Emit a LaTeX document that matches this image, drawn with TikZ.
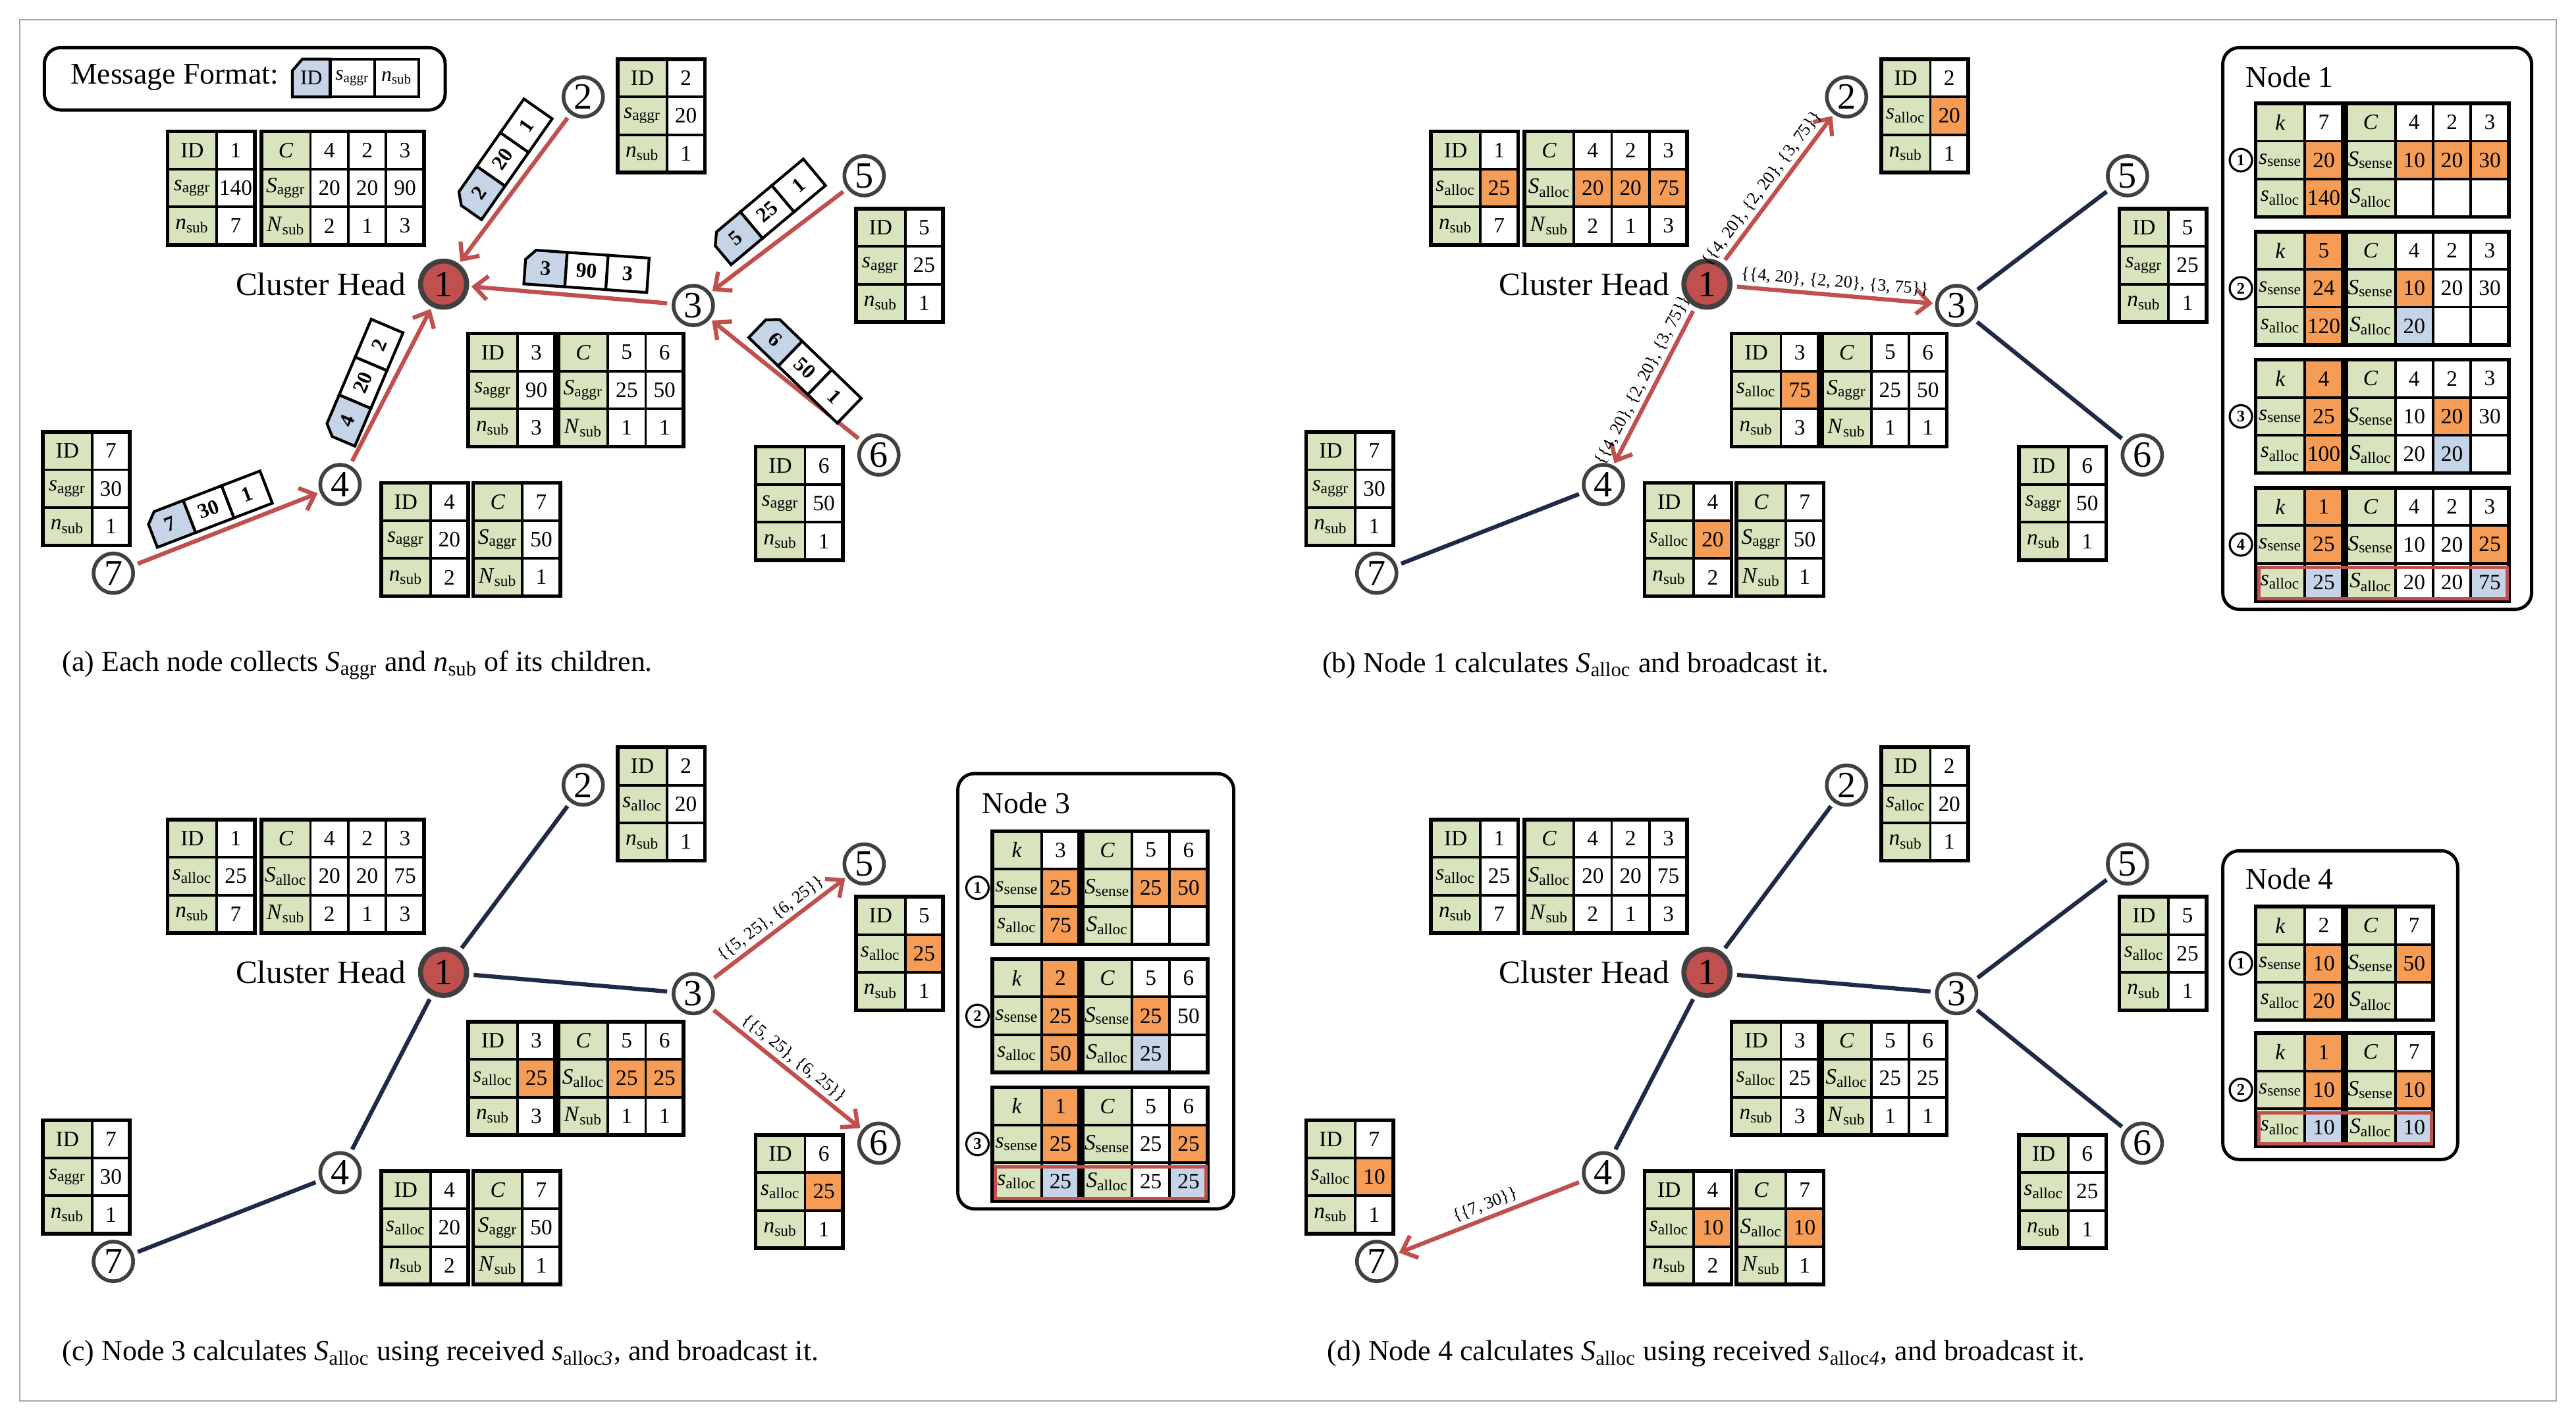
\documentclass[tikz,border=0pt]{standalone}
\usepackage{fontspec}
\setmainfont{Liberation Serif}
\usetikzlibrary{arrows.meta}
\definecolor{chred}{HTML}{C0504D}
\definecolor{ndc}{HTML}{404040}
\definecolor{navy}{HTML}{1F2A48}
\definecolor{gg}{HTML}{D7E4BD}
\definecolor{oo}{HTML}{F59D56}
\definecolor{bb}{HTML}{C5D4E6}
\colorlet{ww}{white}
\newcommand\sv[2]{\textit{#1}\textsubscript{#2}}
\newcommand\tabfont{\fontsize{9.5}{9.5}\selectfont}
\tikzset{
 nd/.style={circle, draw=ndc, line width=1.6pt, fill=white, minimum size=6mm, inner sep=0pt, font=\fontsize{16}{16}\selectfont},
 ch/.style={nd, fill=chred, minimum size=7mm, line width=2.2pt},
 arr/.style={draw=chred, line width=1.8pt, -{Straight Barb[length=2mm,width=3.6mm]}, shorten >=1pt, shorten <=2pt},
 ln/.style={draw=navy, line width=1.8pt, shorten >=2pt, shorten <=2pt},
 lbl/.style={font=\fontsize{7.5}{7.5}\selectfont, sloped, above, inner sep=1.5pt},
 cnum/.style={circle, draw, line width=0.9pt, inner sep=0pt, minimum size=3.4mm, font=\fontsize{7}{7}\selectfont\bfseries},
 box/.style={draw, line width=1.4pt, rounded corners=2.5mm, fill=white},
 captxt/.style={anchor=west, font=\fontsize{12.5}{12.5}\selectfont},
}
% table block: x y ncols rows
\newcommand\tb[4]{%
 \begin{scope}[line width=1.1pt]
 \foreach \rw [count=\i] in {#4} {
  \foreach \cc/\tx [count=\j] in \rw {
   \pgfmathsetmacro\xx{#1+(\j==1?0:30+(\j-2)*23)}
   \pgfmathsetmacro\ww{(\j==1?30:23)}
   \pgfmathsetmacro\yy{#2+(\i-1)*23}
   \filldraw[fill=\cc] (\xx,\yy) rectangle ++(\ww,23);
   \node[font=\tabfont, inner sep=0pt] at (\xx+\ww/2,\yy+11.5) {\tx};
  }
 }
 \draw[line width=1.6pt] (#1,#2) rectangle ++({30+(#3-1)*23},69);
 \end{scope}}
% message strip: x y angle id a b
\newcommand\msg[6]{%
 \begin{scope}[shift={(#1,#2)}, rotate=#3, line width=1.2pt]
  \filldraw[fill=bb] (-31.5,-10.5) -- (-12.5,-10.5) -- (-12.5,10.5) -- (-37.5,10.5) -- (-37.5,-4.5) -- cycle;
  \filldraw[fill=white] (-12.5,-10.5) rectangle (12.5,10.5);
  \filldraw[fill=white] (12.5,-10.5) rectangle (37.5,10.5);
  \node[rotate=#3, inner sep=0pt, font=\fontsize{9}{9}\selectfont\bfseries] at (-25,0) {#4};
  \node[rotate=#3, inner sep=0pt, font=\fontsize{9}{9}\selectfont\bfseries] at (0,0) {#5};
  \node[rotate=#3, inner sep=0pt, font=\fontsize{9}{9}\selectfont\bfseries] at (25,0) {#6};
 \end{scope}}
\newcommand\graphnodes[1]{%
 \node[ch] (#11) at (270,173) {1};
 \node[nd] (#12) at (355,59) {2};
 \node[nd] (#13) at (422,186) {3};
 \node[nd] (#14) at (207,295) {4};
 \node[nd] (#15) at (526,107) {5};
 \node[nd] (#16) at (535,277) {6};
 \node[nd] (#17) at (69,349) {7};
 \node[anchor=east, font=\fontsize{14}{14}\selectfont] (#1ch) at (252,173) {Cluster Head};}
\newcommand\grpnum[2]{\node[cnum] at (595,#1+34.5) {#2};}
\begin{document}
\begin{tikzpicture}[x=0.2495mm, y=-0.2495mm]
\useasboundingbox (0,0) rectangle (1568,865.7);
\draw[gray!70, line width=0.6pt] (12,12) rectangle (1556,853);

%================ (a)
\begin{scope}
\node[box, minimum width=244*0.2495mm, minimum height=38*0.2495mm, anchor=north west] (mf) at (26,28) {};
\node[anchor=west, font=\fontsize{13}{13}\selectfont] (mft) at (38,47) {Message Format:};
\begin{scope}[line width=1.2pt]
\filldraw[fill=bb] (184,36) -- (201,36) -- (201,59) -- (178,59) -- (178,43) -- cycle;
\draw (201,36) rectangle (228,59); \draw (228,36) rectangle (255,59);
\node[font=\fontsize{9}{9}\selectfont] at (189.5,47.5) {ID};
\node[font=\fontsize{9}{9}\selectfont] at (214.5,47.5) {\sv{s}{aggr}};
\node[font=\fontsize{9}{9}\selectfont] at (241.5,47.5) {\sv{n}{sub}};
\end{scope}
\graphnodes{a}
\tb{102}{80}{2}{{gg/ID,ww/1},{gg/\sv{s}{aggr},ww/140},{gg/\sv{n}{sub},ww/7}}
\tb{159}{80}{4}{{gg/\textit{C},ww/4,ww/2,ww/3},{gg/\sv{S}{aggr},ww/20,ww/20,ww/90},{gg/\sv{N}{sub},ww/2,ww/1,ww/3}}
\tb{376}{36}{2}{{gg/ID,ww/2},{gg/\sv{s}{aggr},ww/20},{gg/\sv{n}{sub},ww/1}}
\tb{521}{127}{2}{{gg/ID,ww/5},{gg/\sv{s}{aggr},ww/25},{gg/\sv{n}{sub},ww/1}}
\tb{285}{203}{2}{{gg/ID,ww/3},{gg/\sv{s}{aggr},ww/90},{gg/\sv{n}{sub},ww/3}}
\tb{340}{203}{3}{{gg/\textit{C},ww/5,ww/6},{gg/\sv{S}{aggr},ww/25,ww/50},{gg/\sv{N}{sub},ww/1,ww/1}}
\tb{460}{272}{2}{{gg/ID,ww/6},{gg/\sv{s}{aggr},ww/50},{gg/\sv{n}{sub},ww/1}}
\tb{232}{294}{2}{{gg/ID,ww/4},{gg/\sv{s}{aggr},ww/20},{gg/\sv{n}{sub},ww/2}}
\tb{288}{294}{2}{{gg/\textit{C},ww/7},{gg/\sv{S}{aggr},ww/50},{gg/\sv{N}{sub},ww/1}}
\tb{26}{263}{2}{{gg/ID,ww/7},{gg/\sv{s}{aggr},ww/30},{gg/\sv{n}{sub},ww/1}}
\draw[arr] (a2) -- (a1);
\draw[arr] (a3) -- (a1);
\draw[arr] (a5) -- (a3);
\draw[arr] (a6) -- (a3);
\draw[arr] (a7) -- (a4);
\draw[arr] (a4) -- (a1);
\msg{306}{97}{55}{2}{20}{1}
\msg{357}{165}{-4}{3}{90}{3}
\msg{467}{129}{40}{5}{25}{1}
\msg{490}{224}{-44}{6}{50}{1}
\msg{221}{233}{67}{4}{20}{2}
\msg{127}{310}{21}{7}{30}{1}
\node[captxt] (capa) at (33,405) {(a) Each node collects \sv{S}{aggr} and \sv{n}{sub} of its children.};
\end{scope}

%================ (b)
\begin{scope}[shift={(769,0)}]
\graphnodes{b}
\tb{102}{80}{2}{{gg/ID,ww/1},{gg/\sv{s}{alloc},oo/25},{gg/\sv{n}{sub},ww/7}}
\tb{159}{80}{4}{{gg/\textit{C},ww/4,ww/2,ww/3},{gg/\sv{S}{alloc},oo/20,oo/20,oo/75},{gg/\sv{N}{sub},ww/2,ww/1,ww/3}}
\tb{376}{36}{2}{{gg/ID,ww/2},{gg/\sv{s}{alloc},oo/20},{gg/\sv{n}{sub},ww/1}}
\tb{521}{127}{2}{{gg/ID,ww/5},{gg/\sv{s}{aggr},ww/25},{gg/\sv{n}{sub},ww/1}}
\tb{285}{203}{2}{{gg/ID,ww/3},{gg/\sv{s}{alloc},oo/75},{gg/\sv{n}{sub},ww/3}}
\tb{340}{203}{3}{{gg/\textit{C},ww/5,ww/6},{gg/\sv{S}{aggr},ww/25,ww/50},{gg/\sv{N}{sub},ww/1,ww/1}}
\tb{460}{272}{2}{{gg/ID,ww/6},{gg/\sv{s}{aggr},ww/50},{gg/\sv{n}{sub},ww/1}}
\tb{232}{294}{2}{{gg/ID,ww/4},{gg/\sv{s}{alloc},oo/20},{gg/\sv{n}{sub},ww/2}}
\tb{288}{294}{2}{{gg/\textit{C},ww/7},{gg/\sv{S}{aggr},ww/50},{gg/\sv{N}{sub},ww/1}}
\tb{26}{263}{2}{{gg/ID,ww/7},{gg/\sv{s}{aggr},ww/30},{gg/\sv{n}{sub},ww/1}}
\draw[arr] (b1) -- node[lbl, pos=0.45] {\{\{4, 20\}, \{2, 20\}, \{3, 75\}\}} (b2);
\draw[arr] (b1) -- node[lbl, pos=0.5] {\{\{4, 20\}, \{2, 20\}, \{3, 75\}\}} (b3);
\draw[arr] (b1) -- node[lbl, pos=0.5] {\{\{4, 20\}, \{2, 20\}, \{3, 75\}\}} (b4);
\draw[ln] (b3) -- (b5);
\draw[ln] (b3) -- (b6);
\draw[ln] (b4) -- (b7);
\node[box, minimum width=188*0.2495mm, minimum height=342*0.2495mm, anchor=north west] (n1box) at (583,28) {};
\node[anchor=west, font=\fontsize{13}{13}\selectfont] (n1t) at (593,47) {Node 1};
\tb{604}{63}{2}{{gg/\textit{k},ww/7},{gg/\sv{s}{sense},oo/20},{gg/\sv{s}{alloc},oo/140}}
\tb{659}{63}{4}{{gg/\textit{C},ww/4,ww/2,ww/3},{gg/\sv{S}{sense},oo/10,oo/20,oo/30},{gg/\sv{S}{alloc},ww/{},ww/{},ww/{}}}
\grpnum{63}{1}
\tb{604}{141}{2}{{gg/\textit{k},oo/5},{gg/\sv{s}{sense},oo/24},{gg/\sv{s}{alloc},oo/120}}
\tb{659}{141}{4}{{gg/\textit{C},ww/4,ww/2,ww/3},{gg/\sv{S}{sense},oo/10,ww/20,ww/30},{gg/\sv{S}{alloc},bb/20,ww/{},ww/{}}}
\grpnum{141}{2}
\tb{604}{219}{2}{{gg/\textit{k},oo/4},{gg/\sv{s}{sense},oo/25},{gg/\sv{s}{alloc},oo/100}}
\tb{659}{219}{4}{{gg/\textit{C},ww/4,ww/2,ww/3},{gg/\sv{S}{sense},ww/10,oo/20,ww/30},{gg/\sv{S}{alloc},ww/20,bb/20,ww/{}}}
\grpnum{219}{3}
\tb{604}{297}{2}{{gg/\textit{k},oo/1},{gg/\sv{s}{sense},oo/25},{gg/\sv{s}{alloc},bb/25}}
\tb{659}{297}{4}{{gg/\textit{C},ww/4,ww/2,ww/3},{gg/\sv{S}{sense},ww/10,ww/20,oo/25},{gg/\sv{S}{alloc},ww/20,ww/20,bb/75}}
\grpnum{297}{4}
\draw[chred, line width=1.4pt] (606,345.5) rectangle (757,364.5);
\node[captxt] (capb) at (31,405) {(b) Node 1 calculates \sv{S}{alloc} and broadcast it.};
\end{scope}

%================ (c)
\begin{scope}[shift={(0,419)}]
\graphnodes{c}
\tb{102}{80}{2}{{gg/ID,ww/1},{gg/\sv{s}{alloc},ww/25},{gg/\sv{n}{sub},ww/7}}
\tb{159}{80}{4}{{gg/\textit{C},ww/4,ww/2,ww/3},{gg/\sv{S}{alloc},ww/20,ww/20,ww/75},{gg/\sv{N}{sub},ww/2,ww/1,ww/3}}
\tb{376}{36}{2}{{gg/ID,ww/2},{gg/\sv{s}{alloc},ww/20},{gg/\sv{n}{sub},ww/1}}
\tb{521}{127}{2}{{gg/ID,ww/5},{gg/\sv{s}{alloc},oo/25},{gg/\sv{n}{sub},ww/1}}
\tb{285}{203}{2}{{gg/ID,ww/3},{gg/\sv{s}{alloc},oo/25},{gg/\sv{n}{sub},ww/3}}
\tb{340}{203}{3}{{gg/\textit{C},ww/5,ww/6},{gg/\sv{S}{alloc},oo/25,oo/25},{gg/\sv{N}{sub},ww/1,ww/1}}
\tb{460}{272}{2}{{gg/ID,ww/6},{gg/\sv{s}{alloc},oo/25},{gg/\sv{n}{sub},ww/1}}
\tb{232}{294}{2}{{gg/ID,ww/4},{gg/\sv{s}{alloc},ww/20},{gg/\sv{n}{sub},ww/2}}
\tb{288}{294}{2}{{gg/\textit{C},ww/7},{gg/\sv{S}{aggr},ww/50},{gg/\sv{N}{sub},ww/1}}
\tb{26}{263}{2}{{gg/ID,ww/7},{gg/\sv{s}{aggr},ww/30},{gg/\sv{n}{sub},ww/1}}
\draw[ln] (c1) -- (c2);
\draw[ln] (c1) -- (c3);
\draw[ln] (c1) -- (c4);
\draw[ln] (c4) -- (c7);
\draw[arr] (c3) -- node[lbl] {\{\{5, 25\}, \{6, 25\}\}} (c5);
\draw[arr] (c3) -- node[lbl] {\{\{5, 25\}, \{6, 25\}\}} (c6);
\node[box, minimum width=168*0.2495mm, minimum height=265*0.2495mm, anchor=north west] (n3box) at (582,51) {};
\node[anchor=west, font=\fontsize{13}{13}\selectfont] (n3t) at (593,70) {Node 3};
\tb{604}{87}{2}{{gg/\textit{k},ww/3},{gg/\sv{s}{sense},oo/25},{gg/\sv{s}{alloc},oo/75}}
\tb{659}{87}{3}{{gg/\textit{C},ww/5,ww/6},{gg/\sv{S}{sense},oo/25,oo/50},{gg/\sv{S}{alloc},ww/{},ww/{}}}
\grpnum{87}{1}
\tb{604}{165}{2}{{gg/\textit{k},oo/2},{gg/\sv{s}{sense},oo/25},{gg/\sv{s}{alloc},oo/50}}
\tb{659}{165}{3}{{gg/\textit{C},ww/5,ww/6},{gg/\sv{S}{sense},oo/25,ww/50},{gg/\sv{S}{alloc},bb/25,ww/{}}}
\grpnum{165}{2}
\tb{604}{243}{2}{{gg/\textit{k},oo/1},{gg/\sv{s}{sense},oo/25},{gg/\sv{s}{alloc},bb/25}}
\tb{659}{243}{3}{{gg/\textit{C},ww/5,ww/6},{gg/\sv{S}{sense},ww/25,oo/25},{gg/\sv{S}{alloc},ww/25,bb/25}}
\grpnum{243}{3}
\draw[chred, line width=1.4pt] (606,291.5) rectangle (734,310.5);
\node[captxt] (capc) at (33,405) {(c) Node 3 calculates \sv{S}{alloc} using received \textit{s}\textsubscript{alloc\textit{3}}, and broadcast it.};
\end{scope}

%================ (d)
\begin{scope}[shift={(769,419)}]
\graphnodes{d}
\tb{102}{80}{2}{{gg/ID,ww/1},{gg/\sv{s}{alloc},ww/25},{gg/\sv{n}{sub},ww/7}}
\tb{159}{80}{4}{{gg/\textit{C},ww/4,ww/2,ww/3},{gg/\sv{S}{alloc},ww/20,ww/20,ww/75},{gg/\sv{N}{sub},ww/2,ww/1,ww/3}}
\tb{376}{36}{2}{{gg/ID,ww/2},{gg/\sv{s}{alloc},ww/20},{gg/\sv{n}{sub},ww/1}}
\tb{521}{127}{2}{{gg/ID,ww/5},{gg/\sv{s}{alloc},ww/25},{gg/\sv{n}{sub},ww/1}}
\tb{285}{203}{2}{{gg/ID,ww/3},{gg/\sv{s}{alloc},ww/25},{gg/\sv{n}{sub},ww/3}}
\tb{340}{203}{3}{{gg/\textit{C},ww/5,ww/6},{gg/\sv{S}{alloc},ww/25,ww/25},{gg/\sv{N}{sub},ww/1,ww/1}}
\tb{460}{272}{2}{{gg/ID,ww/6},{gg/\sv{s}{alloc},ww/25},{gg/\sv{n}{sub},ww/1}}
\tb{232}{294}{2}{{gg/ID,ww/4},{gg/\sv{s}{alloc},oo/10},{gg/\sv{n}{sub},ww/2}}
\tb{288}{294}{2}{{gg/\textit{C},ww/7},{gg/\sv{S}{alloc},oo/10},{gg/\sv{N}{sub},ww/1}}
\tb{26}{263}{2}{{gg/ID,ww/7},{gg/\sv{s}{alloc},oo/10},{gg/\sv{n}{sub},ww/1}}
\draw[ln] (d1) -- (d2);
\draw[ln] (d1) -- (d3);
\draw[ln] (d1) -- (d4);
\draw[ln] (d3) -- (d5);
\draw[ln] (d3) -- (d6);
\draw[arr] (d4) -- node[lbl] {\{\{7, 30\}\}} (d7);
\node[box, minimum width=143*0.2495mm, minimum height=188*0.2495mm, anchor=north west] (n4box) at (583,98) {};
\node[anchor=west, font=\fontsize{13}{13}\selectfont] (n4t) at (593,116) {Node 4};
\tb{604}{133}{2}{{gg/\textit{k},ww/2},{gg/\sv{s}{sense},oo/10},{gg/\sv{s}{alloc},oo/20}}
\tb{659}{133}{2}{{gg/\textit{C},ww/7},{gg/\sv{S}{sense},oo/50},{gg/\sv{S}{alloc},ww/{}}}
\grpnum{133}{1}
\tb{604}{210}{2}{{gg/\textit{k},oo/1},{gg/\sv{s}{sense},oo/10},{gg/\sv{s}{alloc},bb/10}}
\tb{659}{210}{2}{{gg/\textit{C},ww/7},{gg/\sv{S}{sense},oo/10},{gg/\sv{S}{alloc},bb/10}}
\grpnum{210}{2}
\draw[chred, line width=1.4pt] (606,258.5) rectangle (711,277.5);
\node[captxt] (capd) at (34,405) {(d) Node 4 calculates \sv{S}{alloc} using received \textit{s}\textsubscript{alloc\textit{4}}, and broadcast it.};
\end{scope}
\end{tikzpicture}
\end{document}
